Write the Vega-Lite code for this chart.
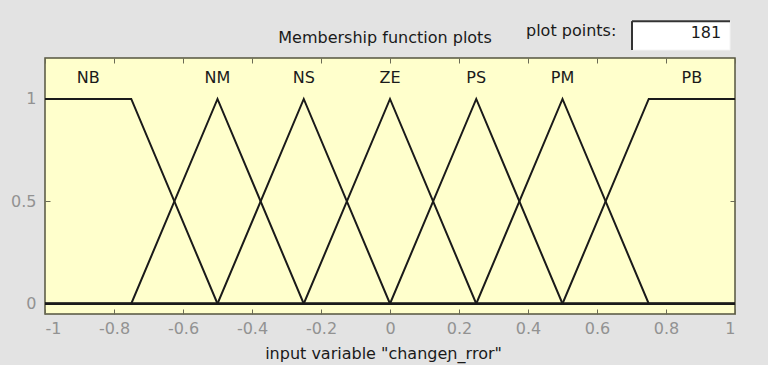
{
  "$schema": "https://vega.github.io/schema/vega-lite/v6.json",
  "width": 690,
  "height": 256,
  "autosize": {"type": "none"},
  "padding": {"left": 45, "top": 58, "right": 33, "bottom": 51},
  "background": "#e3e3e3",
  "title": {
    "text": "Membership function plots",
    "anchor": "middle",
    "font": "DejaVu Sans",
    "fontSize": 16,
    "fontWeight": "normal",
    "color": "#1a1a1a",
    "offset": -26,
    "dx": -5
  },
  "config": {
    "view": {"fill": "#ffffcc", "stroke": "#55553f", "strokeWidth": 1.5},
    "axis": {
      "domain": false,
      "grid": false,
      "tickSize": -5,
      "tickColor": "#6b6b55",
      "tickWidth": 1,
      "labelFont": "DejaVu Sans",
      "labelFontSize": 16,
      "labelColor": "#929292",
      "titleFont": "DejaVu Sans",
      "titleFontSize": 16,
      "titleFontWeight": "normal",
      "titleColor": "#1a1a1a"
    }
  },
  "datasets": {
    "mf": [
      {"name": "NB", "x": -1, "mu": 1},
      {"name": "NB", "x": -0.75, "mu": 1},
      {"name": "NB", "x": -0.5, "mu": 0},
      {"name": "NB", "x": 1, "mu": 0},
      {"name": "NM", "x": -1, "mu": 0},
      {"name": "NM", "x": -0.75, "mu": 0},
      {"name": "NM", "x": -0.5, "mu": 1},
      {"name": "NM", "x": -0.25, "mu": 0},
      {"name": "NM", "x": 1, "mu": 0},
      {"name": "NS", "x": -1, "mu": 0},
      {"name": "NS", "x": -0.5, "mu": 0},
      {"name": "NS", "x": -0.25, "mu": 1},
      {"name": "NS", "x": 0, "mu": 0},
      {"name": "NS", "x": 1, "mu": 0},
      {"name": "ZE", "x": -1, "mu": 0},
      {"name": "ZE", "x": -0.25, "mu": 0},
      {"name": "ZE", "x": 0, "mu": 1},
      {"name": "ZE", "x": 0.25, "mu": 0},
      {"name": "ZE", "x": 1, "mu": 0},
      {"name": "PS", "x": -1, "mu": 0},
      {"name": "PS", "x": 0, "mu": 0},
      {"name": "PS", "x": 0.25, "mu": 1},
      {"name": "PS", "x": 0.5, "mu": 0},
      {"name": "PS", "x": 1, "mu": 0},
      {"name": "PM", "x": -1, "mu": 0},
      {"name": "PM", "x": 0.25, "mu": 0},
      {"name": "PM", "x": 0.5, "mu": 1},
      {"name": "PM", "x": 0.75, "mu": 0},
      {"name": "PM", "x": 1, "mu": 0},
      {"name": "PB", "x": -1, "mu": 0},
      {"name": "PB", "x": 0.5, "mu": 0},
      {"name": "PB", "x": 0.75, "mu": 1},
      {"name": "PB", "x": 1, "mu": 1}
    ],
    "labels": [
      {"name": "NB", "x": -0.875},
      {"name": "NM", "x": -0.5},
      {"name": "NS", "x": -0.25},
      {"name": "ZE", "x": 0},
      {"name": "PS", "x": 0.25},
      {"name": "PM", "x": 0.5},
      {"name": "PB", "x": 0.875}
    ],
    "points": [{"caption": "plot points:", "count": "181"}]
  },
  "layer": [
    {
      "data": {"name": "mf"},
      "mark": {"type": "line", "color": "#1a1a1a", "strokeWidth": 2, "clip": true},
      "encoding": {
        "x": {
          "field": "x",
          "type": "quantitative",
          "scale": {"domain": [-1, 1], "nice": false, "zero": false},
          "axis": {
            "orient": "bottom",
            "values": [-1, -0.8, -0.6, -0.4, -0.2, 0, 0.2, 0.4, 0.6, 0.8, 1],
            "labelExpr": "datum.value < 0 ? '-' + format(-datum.value, '~g') : format(datum.value, '~g')",
            "labelPadding": 11,
            "title": "input variable \"changeɲ_rror\"",
            "titlePadding": 9,
            "titleX": 338,
            "titleAlign": "center"
          }
        },
        "y": {
          "field": "mu",
          "type": "quantitative",
          "scale": {"domain": [-0.05, 1.2], "nice": false, "zero": false},
          "axis": {
            "orient": "left",
            "values": [0, 0.5, 1],
            "labelExpr": "format(datum.value, '~g')",
            "labelPadding": 14,
            "title": null
          }
        },
        "detail": {"field": "name"}
      }
    },
    {
      "data": {"name": "labels"},
      "mark": {"type": "text", "font": "DejaVu Sans", "fontSize": 16, "color": "#1a1a1a", "baseline": "middle", "align": "center"},
      "encoding": {
        "x": {
          "field": "x",
          "type": "quantitative",
          "axis": {
            "orient": "top",
            "values": [-1, -0.8, -0.6, -0.4, -0.2, 0, 0.2, 0.4, 0.6, 0.8, 1],
            "labels": false,
            "title": null
          }
        },
        "y": {
          "datum": 1.1,
          "type": "quantitative",
          "axis": {"orient": "right", "values": [0, 0.5, 1], "labels": false, "title": null}
        },
        "text": {"field": "name"}
      }
    },
    {
      "data": {"name": "points"},
      "mark": {"type": "rect", "fill": "#ffffff", "stroke": "#f4f4f4", "strokeWidth": 1},
      "encoding": {
        "x": {"datum": 0.7014, "type": "quantitative", "axis": null},
        "x2": {"datum": 0.9855},
        "y": {"datum": 1.239, "type": "quantitative", "axis": null},
        "y2": {"datum": 1.38}
      }
    },
    {
      "data": {"name": "points"},
      "mark": {"type": "rule", "color": "#333333", "strokeWidth": 2},
      "encoding": {
        "x": {"datum": 0.7014, "type": "quantitative", "axis": null},
        "x2": {"datum": 0.9855},
        "y": {"datum": 1.38, "type": "quantitative", "axis": null}
      }
    },
    {
      "data": {"name": "points"},
      "mark": {"type": "rule", "color": "#333333", "strokeWidth": 2},
      "encoding": {
        "x": {"datum": 0.7014, "type": "quantitative", "axis": null},
        "y": {"datum": 1.239, "type": "quantitative", "axis": null},
        "y2": {"datum": 1.38}
      }
    },
    {
      "data": {"name": "points"},
      "mark": {"type": "text", "font": "DejaVu Sans", "fontSize": 16, "color": "#1a1a1a", "align": "right", "baseline": "middle"},
      "encoding": {
        "x": {"datum": 0.96, "type": "quantitative", "axis": null},
        "y": {"datum": 1.322, "type": "quantitative", "axis": null},
        "text": {"field": "count"}
      }
    },
    {
      "data": {"name": "points"},
      "mark": {"type": "text", "font": "DejaVu Sans", "fontSize": 16, "color": "#1a1a1a", "align": "center", "baseline": "middle"},
      "encoding": {
        "x": {"datum": 0.525, "type": "quantitative", "axis": null},
        "y": {"datum": 1.33, "type": "quantitative", "axis": null},
        "text": {"field": "caption"}
      }
    }
  ],
  "resolve": {"axis": {"x": "independent", "y": "independent"}}
}
